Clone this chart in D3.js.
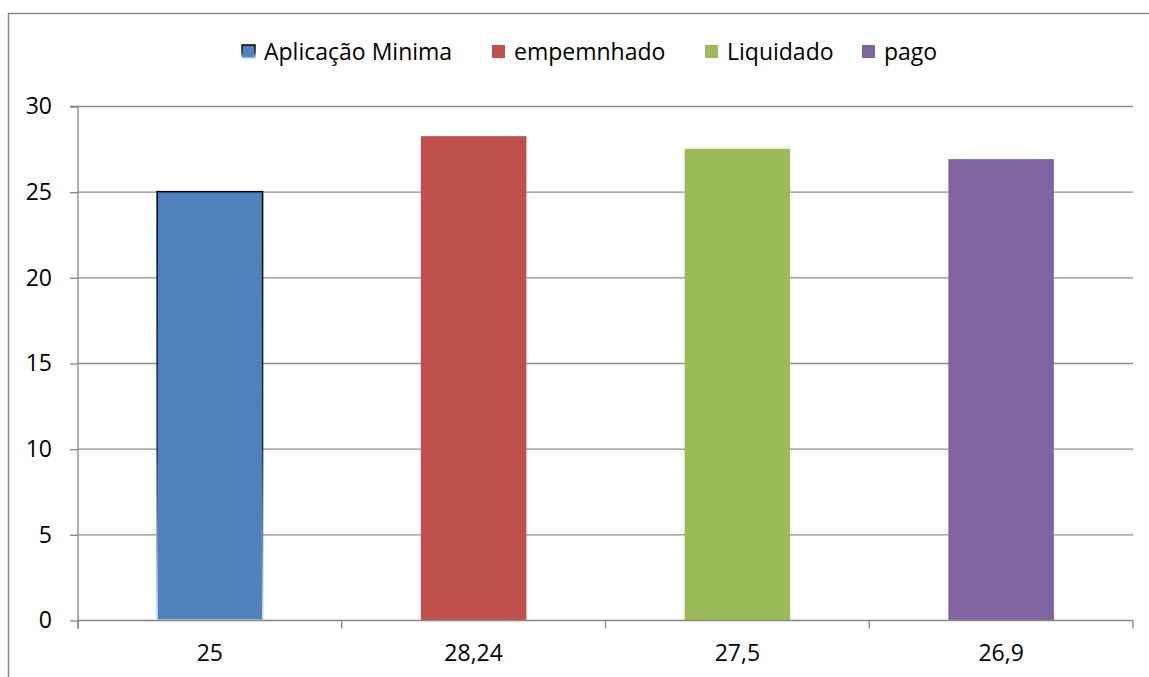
<!DOCTYPE html>
<html><head><meta charset="utf-8">
<script src="https://cdn.jsdelivr.net/npm/d3@7"></script>
<style>body{margin:0;background:#fff}svg{display:block}text{font-family:"Open Sans","Liberation Sans",sans-serif;fill:#000}</style>
</head><body><svg id="c" width="1149" height="677"></svg>
<script>
const categories = ["25", "28,24", "27,5", "26,9"];
const seriesNames = ["Aplicação Minima", "empemnhado", "Liquidado", "pago"];
const values = [25, 28.24, 27.5, 26.9];
const colors = ["#4f81bd", "#c0504d", "#9bbb59", "#8064a2"];
const yTicks = [0, 5, 10, 15, 20, 25, 30];

const svg = d3.select("#c");
const defs = svg.append("defs");
const g1 = defs.append("linearGradient").attr("id","edge").attr("x1",0).attr("y1",0).attr("x2",0).attr("y2",1);
g1.append("stop").attr("offset","0").attr("stop-color","#000");
g1.append("stop").attr("offset","0.6").attr("stop-color","#1f3a5c");
g1.append("stop").attr("offset","1").attr("stop-color","#c6d9f1");

// chart border
svg.append("path").attr("d","M8.5,700 V13.5 H1200").attr("fill","none").attr("stroke","#888").attr("stroke-width",1.5);

const x0 = 78, x1 = 1133, yTop = 106, yBot = 620;
const x = d3.scaleBand().domain(categories).range([x0, x1]).paddingInner(0.6).paddingOuter(0.3);
const y = d3.scaleLinear().domain([0, 30]).range([yBot, yTop]);

// gridlines
svg.append("g").selectAll("line").data(yTicks.filter(d=>d>0)).join("line")
  .attr("x1", x0).attr("x2", x1).attr("y1", d=>y(d)+0.5).attr("y2", d=>y(d)+0.5)
  .attr("stroke","#8c8c8c").attr("stroke-width",1.3);

// bars
svg.append("g").selectAll("rect").data(values).join("rect")
  .attr("x", (d,i)=>x(categories[i]))
  .attr("width", x.bandwidth())
  .attr("y", d=>y(d))
  .attr("height", d=>yBot - y(d))
  .attr("fill", (d,i)=>colors[i])
  .attr("stroke", (d,i)=> i===0 ? "url(#edge)" : "none")
  .attr("stroke-width", 1.5);

// y axis
const yAxis = d3.axisLeft(y).tickValues(yTicks).tickSize(8).tickPadding(10).tickFormat(d3.format("d"));
const ya = svg.append("g").attr("transform",`translate(${x0},0.5)`).call(yAxis);
ya.select(".domain").attr("stroke","#868686").attr("stroke-width",1.3).attr("d",`M-8,${yTop}H0V${yBot+8}`);
ya.selectAll(".tick line").attr("stroke","#868686").attr("stroke-width",1.3);
ya.selectAll(".tick text").attr("font-size",23).attr("font-family","'Open Sans',sans-serif").attr("fill","#000").attr("dx", -8);

// x axis
const xb = d3.scaleLinear().domain([0, categories.length]).range([x0, x1]);
const xa = svg.append("g").attr("transform",`translate(0,${yBot+0.5})`);
xa.append("line").attr("x1",x0).attr("x2",x1).attr("stroke","#868686").attr("stroke-width",1.3);
xa.selectAll(".tk").data(d3.range(categories.length+1)).join("line").attr("class","tk")
  .attr("x1", d=>xb(d)).attr("x2", d=>xb(d)).attr("y1",0).attr("y2",8)
  .attr("stroke","#868686").attr("stroke-width",1.3);
xa.selectAll("text").data(categories).join("text")
  .attr("x", d=>x(d)+x.bandwidth()/2).attr("y", 40)
  .attr("text-anchor","middle").attr("font-size",23).text(d=>d);

// legend
const legendX = [242, 492, 705, 862];
const lg = svg.append("g").selectAll("g").data(seriesNames).join("g")
  .attr("transform",(d,i)=>`translate(${legendX[i]},45)`);
lg.append("rect").attr("width",13).attr("height",13).attr("fill",(d,i)=>colors[i])
  .attr("stroke",(d,i)=> i===0 ? "url(#edge)" : "none").attr("stroke-width",1.5);
lg.append("text").attr("x",22).attr("y",15).attr("font-size",23).text(d=>d);
</script></body></html>
